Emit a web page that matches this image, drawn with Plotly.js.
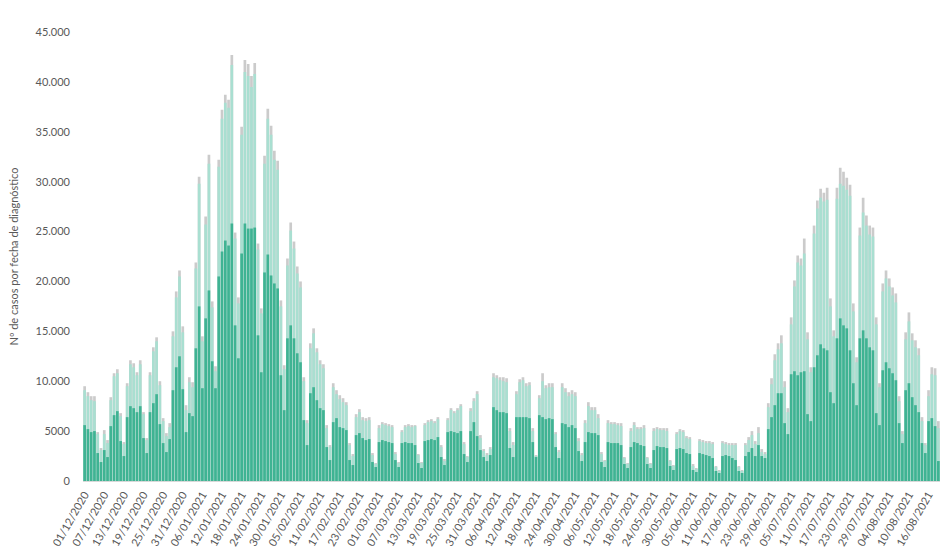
<!DOCTYPE html>
<html>
<head>
<meta charset="utf-8">
<script src="https://cdn.plot.ly/plotly-3.0.1.min.js"></script>
<style>
  html, body { margin: 0; padding: 0; background: #ffffff; }
  #chart { width: 940px; height: 558px; }
</style>
</head>
<body>
<div id="chart"></div>
<script>
// Daily categories: 01/12/2020 .. 19/08/2021 (262 days)
const START_DATE = "2020-12-01";
const N_DAYS = 262;

// Tick labels shown on the x axis (every 6 days)
const TICK_LABELS = [
  "01/12/2020","07/12/2020","13/12/2020","19/12/2020","25/12/2020","31/12/2020",
  "06/01/2021","12/01/2021","18/01/2021","24/01/2021","30/01/2021","05/02/2021",
  "11/02/2021","17/02/2021","23/02/2021","01/03/2021","07/03/2021","13/03/2021",
  "19/03/2021","25/03/2021","31/03/2021","06/04/2021","12/04/2021","18/04/2021",
  "24/04/2021","30/04/2021","06/05/2021","12/05/2021","18/05/2021","24/05/2021",
  "30/05/2021","05/06/2021","11/06/2021","17/06/2021","23/06/2021","29/06/2021",
  "05/07/2021","11/07/2021","17/07/2021","23/07/2021","29/07/2021","04/08/2021",
  "10/08/2021","16/08/2021"
];

// Y axis ticks
const Y_TICK_VALUES = [0, 5000, 10000, 15000, 20000, 25000, 30000, 35000, 40000, 45000];
const Y_TICK_TEXT = ["0", "5000", "10.000", "15.000", "20.000", "25.000", "30.000", "35.000", "40.000", "45.000"];

// Top of the grey part (total height of each bar)
const TOTAL = [
  9500, 8900, 8500, 8500, 4900, 3300,
  5100, 4100, 8400, 10800, 11200, 6800, 3900,
  9800, 12100, 11800, 10900, 12100, 6900, 4300,
  10900, 13400, 14400, 10000, 6300, 4800, 5800,
  15000, 19000, 21100, 15500, 7600, 10400, 9900,
  21900, 30500, 14500, 26500, 32700, 18000, 11500,
  32200, 37200, 38700, 38200, 42700, 24900, 18400,
  35500, 42200, 41800, 40600, 41900, 23800, 17300,
  32600, 37300, 35600, 33100, 32100, 18100, 11600,
  22300, 25900, 24000, 21500, 20000, 10400, 6100,
  13800, 15300, 13300, 12100, 11700, 5600, 3600,
  9800, 9100, 8600, 8300, 7900, 3800, 2700,
  6700, 7200, 6400, 6300, 6400, 2800, 1800,
  5600, 5900, 5800, 5700, 5600, 2900, 1900,
  5100, 5600, 5700, 5600, 5600, 2700, 1900,
  5800, 6100, 6200, 6000, 6400, 3600, 2200,
  6300, 7300, 7000, 7300, 7700, 3900, 2500,
  7300, 8300, 9000, 4600, 3200, 2800, 3400,
  10800, 10600, 10400, 10400, 10300, 5300, 3900,
  9000, 10200, 10400, 9800, 9900, 5300, 2600,
  8600, 10800, 9600, 9800, 9800, 4900, 3100,
  9800, 9300, 8900, 9100, 8900, 4300, 2800,
  6100, 7900, 7400, 7400, 6700, 2900, 2100,
  6100, 5900, 5900, 5800, 5800, 2400, 1800,
  5300, 5900, 5400, 5400, 5600, 2400, 1800,
  5300, 5400, 5300, 5300, 5300, 2100, 1600,
  4900, 5200, 5100, 4500, 4400, 1700, 1300,
  4200, 4100, 4000, 4000, 3900, 1500, 1100,
  4000, 3900, 3800, 3800, 3800, 1500, 1100,
  3800, 4400, 5000, 4000, 5400, 3200, 2900,
  7800, 10300, 12700, 13800, 14600, 10000, 7300,
  16400, 20100, 22600, 22300, 24300, 14900, 11400,
  25600, 28100, 29300, 28900, 29400, 18300, 15100,
  29400, 31400, 31000, 30400, 29700, 17800, 12400,
  25400, 28400, 26600, 25600, 25400, 16400, 9800,
  19800, 21100, 20300, 19400, 18800, 8500, 5000,
  14900, 16900, 14800, 14100, 13300, 6400, 3800,
  9100, 11400, 11300, 6000
];

// Top of the light green part
const LIGHT_TOP = [
  9100, 8500, 8100, 8000, 4700, 3100,
  4700, 3800, 8100, 10500, 10800, 6500, 3700,
  9500, 11700, 11400, 10600, 11700, 6700, 4100,
  10600, 13000, 14000, 9600, 6000, 4500, 5400,
  14500, 18400, 20500, 14900, 7100, 9900, 9400,
  21300, 29800, 14000, 25700, 31800, 17400, 11000,
  31500, 36300, 37900, 37400, 41700, 24300, 17800,
  34700, 41000, 40600, 39500, 40800, 23200, 16800,
  31800, 36300, 34700, 32200, 31200, 17500, 11200,
  21600, 25100, 23300, 20800, 19400, 10000, 5800,
  13300, 14800, 12900, 11700, 11300, 5300, 3400,
  9400, 8700, 8200, 7900, 7600, 3600, 2500,
  6400, 6900, 6100, 6000, 6100, 2600, 1700,
  5300, 5700, 5600, 5500, 5400, 2700, 1800,
  4900, 5400, 5500, 5400, 5500, 2600, 1800,
  5600, 5900, 6000, 5800, 6200, 3400, 2000,
  6100, 7100, 6800, 7100, 7500, 3700, 2400,
  7000, 8000, 8700, 4300, 3000, 2600, 3200,
  10400, 10300, 10100, 10000, 9900, 5000, 3600,
  8700, 9900, 10100, 9500, 9600, 5000, 2500,
  8300, 10000, 9300, 9400, 9400, 4700, 2900,
  9400, 8900, 8500, 8700, 8500, 4000, 2600,
  5800, 7500, 7100, 7100, 6300, 2700, 2000,
  5800, 5700, 5700, 5600, 5500, 2300, 1700,
  5000, 5600, 5200, 5200, 5300, 2300, 1700,
  5000, 5200, 5100, 5100, 5000, 2000, 1500,
  4700, 5000, 4900, 4300, 4200, 1500, 1200,
  4000, 3900, 3800, 3800, 3700, 1400, 1000,
  3800, 3700, 3600, 3600, 3600, 1400, 1000,
  3600, 4100, 4600, 3700, 4800, 2900, 2700,
  7400, 9700, 12100, 13200, 13800, 9400, 6900,
  15700, 19500, 21900, 21600, 22800, 14200, 10900,
  24800, 27300, 28400, 28000, 28200, 17500, 14500,
  28300, 29800, 29600, 29200, 28600, 17000, 11900,
  24600, 26900, 25600, 24700, 24500, 15700, 9400,
  19000, 20300, 19500, 18600, 17900, 8000, 4700,
  14200, 16000, 14100, 13400, 12600, 6000, 3600,
  8500, 10700, 10600, 5300
];

// Top of the dark green part
const DARK = [
  5600, 5200, 4900, 5000, 2800, 1900,
  3100, 2400, 5500, 6600, 7000, 4000, 2500,
  6400, 7500, 7300, 6900, 7500, 4300, 2800,
  6900, 7800, 8700, 5700, 3800, 2900, 4200,
  9100, 11400, 12500, 9200, 4900, 6800, 6500,
  13300, 17500, 9300, 16300, 19100, 12000, 9300,
  20500, 23000, 24100, 23600, 25800, 15600, 12300,
  22800, 25800, 25300, 25300, 25400, 14600, 10900,
  20900, 22700, 20600, 19800, 19300, 10600, 7100,
  14300, 15600, 14300, 12800, 11900, 6100, 3600,
  8800, 9400, 8100, 7300, 7100, 3400, 2100,
  5900, 6300, 5400, 5300, 5100, 2100, 1600,
  4600, 4800, 4300, 4100, 4200, 1900, 1400,
  3900, 4100, 4000, 3900, 3800, 2100, 1400,
  3800, 3900, 3800, 3800, 3600, 1800, 1300,
  4000, 4100, 4200, 4100, 4400, 2400, 1600,
  4900, 5000, 4900, 4800, 5000, 2700, 1900,
  5000, 5900, 4500, 3100, 2400, 2000, 2600,
  7400, 7100, 6900, 6900, 6800, 3300, 2400,
  6400, 6400, 6400, 6400, 6300, 3900, 2400,
  6600, 6400, 6200, 6300, 6200, 3400, 2300,
  5800, 5700, 5400, 5600, 5300, 3000, 2000,
  3900, 4900, 4800, 4800, 4600, 1900, 1400,
  3900, 3800, 3800, 3800, 3600, 1700, 1300,
  3400, 3900, 3800, 3600, 3500, 1700, 1300,
  3100, 3500, 3400, 3400, 3300, 1500, 1100,
  3200, 3300, 3200, 2800, 2700, 1100, 900,
  2800, 2700, 2600, 2500, 2300, 1000, 800,
  2500, 2600, 2500, 2300, 2100, 1000, 800,
  2500, 2900, 3300, 2500, 3600, 2500, 2300,
  5200, 6400, 7600, 8800, 8800, 5800, 4700,
  10700, 11000, 10600, 10900, 11000, 6700, 6000,
  11400, 12600, 13700, 13300, 13100, 8900, 7800,
  14300, 16300, 15600, 15300, 13100, 9800, 7600,
  14300, 15100, 14300, 13400, 13100, 6800, 5600,
  11100, 11900, 11300, 10800, 10100, 5800, 3800,
  9100, 9800, 8400, 7600, 6900, 3800, 2800,
  6000, 6300, 5500, 2000
];

// Build the date categories
function pad(n) { return (n < 10 ? "0" : "") + n; }
const DATES = [];
{
  const d0 = new Date(START_DATE + "T00:00:00Z");
  for (let i = 0; i < N_DAYS; i++) {
    const d = new Date(d0.getTime() + i * 86400000);
    DATES.push(pad(d.getUTCDate()) + "/" + pad(d.getUTCMonth() + 1) + "/" + d.getUTCFullYear());
  }
}

const FONT = "Lato, 'Open Sans', sans-serif";
const TXT = "#595959";

const traces = [
  { type: "bar", x: DATES, y: TOTAL, marker: { color: "#cbcbcb", line: { width: 0 } }, name: "total", hoverinfo: "x+y" },
  { type: "bar", x: DATES, y: LIGHT_TOP, marker: { color: "#a9dfd1", line: { width: 0 } }, name: "light", hoverinfo: "x+y" },
  { type: "bar", x: DATES, y: DARK, marker: { color: "#3fb393", line: { width: 0 } }, name: "dark", hoverinfo: "x+y" }
];

const layout = {
  width: 940,
  height: 558,
  margin: { l: 83, r: 0, t: 32, b: 77, pad: 0 },
  paper_bgcolor: "#ffffff",
  plot_bgcolor: "#ffffff",
  barmode: "overlay",
  bargap: 0.18,
  showlegend: false,
  font: { family: FONT, size: 11, color: TXT },
  xaxis: {
    type: "category",
    categoryorder: "array",
    categoryarray: DATES,
    range: [-0.5, N_DAYS - 0.5],
    tickmode: "array",
    tickvals: TICK_LABELS,
    ticktext: TICK_LABELS,
    tickangle: -60,
    tickfont: { family: FONT, size: 11, color: TXT },
    showgrid: false,
    zeroline: false,
    showline: true,
    linecolor: "#d9d9d9",
    linewidth: 1,
    ticks: "",
    ticklabelstandoff: 2,
    fixedrange: true
  },
  yaxis: {
    range: [0, 45000],
    tickmode: "array",
    tickvals: Y_TICK_VALUES,
    ticktext: Y_TICK_TEXT,
    tickfont: { family: FONT, size: 11, color: TXT },
    showgrid: false,
    zeroline: false,
    showline: false,
    ticks: "",
    ticklabelstandoff: 12,
    title: { text: "Nº de casos por fecha de diagnóstico", font: { family: FONT, size: 11, color: TXT }, standoff: 14 },
    fixedrange: true
  }
};

Plotly.newPlot("chart", traces, layout, { displayModeBar: false, staticPlot: true });
</script>
</body>
</html>
